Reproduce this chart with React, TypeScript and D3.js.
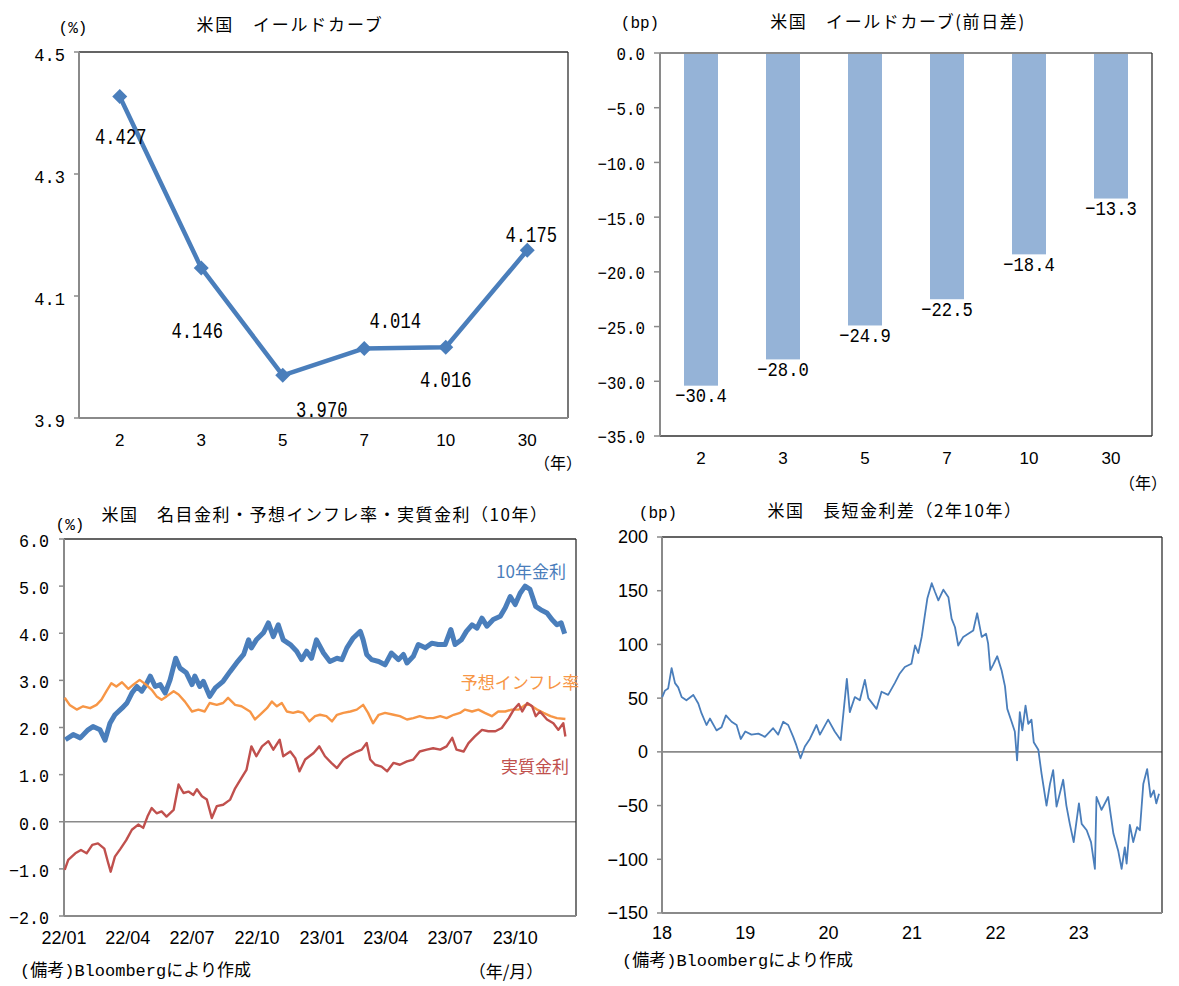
import React from 'react';
import * as d3 from 'd3';

// ---- US yield curve (levels and daily change) ----
const maturities = ['2', '3', '5', '7', '10', '30'];
const yields = [4.427, 4.146, 3.97, 4.014, 4.016, 4.175];
const dailyChangeBp = [-30.4, -28.0, -24.9, -22.5, -18.4, -13.3];
const yieldTicks = [3.9, 4.1, 4.3, 4.5];
const changeTicks = [0, -5, -10, -15, -20, -25, -30, -35];
// manual placement of the yield labels relative to each marker [dx, dy]
const yieldLabelOffsets: [number, number][] = [
  [1, 40], [-4, 62], [39, 34], [31, -28], [0, 32], [4, -16],
];

// ---- 10y nominal yield, breakeven inflation, real yield (%) ----
const nominal10y: [string, number][] = [
  ['2022-01-03', 1.74], ['2022-01-14', 1.85], ['2022-01-24', 1.78], ['2022-02-04', 1.95],
  ['2022-02-11', 2.02], ['2022-02-21', 1.95], ['2022-02-28', 1.73], ['2022-03-07', 2.09],
  ['2022-03-14', 2.27], ['2022-03-24', 2.41], ['2022-03-31', 2.52], ['2022-04-07', 2.73],
  ['2022-04-14', 2.87], ['2022-04-21', 2.77], ['2022-04-27', 2.91], ['2022-05-03', 3.09],
  ['2022-05-10', 2.87], ['2022-05-17', 2.91], ['2022-05-24', 2.73], ['2022-05-31', 3.01],
  ['2022-06-08', 3.47], ['2022-06-14', 3.26], ['2022-06-23', 3.16], ['2022-07-01', 2.91],
  ['2022-07-05', 3.09], ['2022-07-12', 2.87], ['2022-07-17', 2.98], ['2022-07-26', 2.66],
  ['2022-08-03', 2.84], ['2022-08-14', 2.98], ['2022-08-24', 3.19], ['2022-09-02', 3.37],
  ['2022-09-12', 3.55], ['2022-09-19', 3.86], ['2022-09-23', 3.69], ['2022-09-30', 3.86],
  ['2022-10-10', 4.01], ['2022-10-17', 4.22], ['2022-10-24', 3.93], ['2022-10-31', 4.18],
  ['2022-11-07', 3.86], ['2022-11-17', 3.76], ['2022-11-26', 3.62], ['2022-12-03', 3.44],
  ['2022-12-10', 3.62], ['2022-12-17', 3.47], ['2022-12-24', 3.86], ['2023-01-03', 3.58],
  ['2023-01-12', 3.4], ['2023-01-22', 3.47], ['2023-01-29', 3.44], ['2023-02-05', 3.69],
  ['2023-02-14', 3.9], ['2023-02-24', 4.04], ['2023-02-28', 3.86], ['2023-03-05', 3.55],
  ['2023-03-12', 3.44], ['2023-03-22', 3.4], ['2023-03-31', 3.33], ['2023-04-09', 3.58],
  ['2023-04-19', 3.44], ['2023-04-26', 3.55], ['2023-05-01', 3.37], ['2023-05-10', 3.51],
  ['2023-05-17', 3.76], ['2023-05-27', 3.69], ['2023-06-05', 3.79], ['2023-06-14', 3.76],
  ['2023-06-24', 3.76], ['2023-07-02', 4.08], ['2023-07-08', 3.76], ['2023-07-17', 3.86],
  ['2023-07-24', 4.04], ['2023-08-01', 4.18], ['2023-08-08', 4.11], ['2023-08-15', 4.32],
  ['2023-08-22', 4.15], ['2023-08-31', 4.29], ['2023-09-10', 4.36], ['2023-09-17', 4.54],
  ['2023-09-24', 4.78], ['2023-10-01', 4.61], ['2023-10-08', 4.85], ['2023-10-15', 5.0],
  ['2023-10-22', 4.93], ['2023-10-30', 4.57], ['2023-11-06', 4.5], ['2023-11-15', 4.43],
  ['2023-11-22', 4.29], ['2023-11-29', 4.18], ['2023-12-05', 4.22], ['2023-12-10', 3.99],
];

const breakeven10y: [string, number][] = [
  ['2022-01-02', 2.63], ['2022-01-09', 2.48], ['2022-01-19', 2.38], ['2022-01-28', 2.45],
  ['2022-02-07', 2.41], ['2022-02-16', 2.48], ['2022-02-23', 2.59], ['2022-03-02', 2.77],
  ['2022-03-09', 2.94], ['2022-03-16', 2.87], ['2022-03-24', 2.96], ['2022-04-02', 2.82],
  ['2022-04-09', 2.91], ['2022-04-18', 3.01], ['2022-04-27', 2.91], ['2022-05-05', 2.8],
  ['2022-05-12', 2.66], ['2022-05-19', 2.59], ['2022-05-26', 2.66], ['2022-06-05', 2.77],
  ['2022-06-12', 2.7], ['2022-06-21', 2.55], ['2022-07-01', 2.34], ['2022-07-10', 2.38],
  ['2022-07-19', 2.34], ['2022-07-26', 2.52], ['2022-08-05', 2.48], ['2022-08-14', 2.52],
  ['2022-08-21', 2.63], ['2022-08-31', 2.48], ['2022-09-09', 2.45], ['2022-09-21', 2.34],
  ['2022-09-28', 2.17], ['2022-10-05', 2.27], ['2022-10-15', 2.41], ['2022-10-22', 2.55],
  ['2022-10-29', 2.45], ['2022-11-05', 2.52], ['2022-11-12', 2.34], ['2022-11-21', 2.31],
  ['2022-11-28', 2.34], ['2022-12-05', 2.31], ['2022-12-14', 2.13], ['2022-12-22', 2.24],
  ['2022-12-29', 2.27], ['2023-01-07', 2.24], ['2023-01-15', 2.13], ['2023-01-22', 2.27],
  ['2023-01-31', 2.31], ['2023-02-10', 2.34], ['2023-02-19', 2.38], ['2023-02-28', 2.48],
  ['2023-03-07', 2.31], ['2023-03-14', 2.09], ['2023-03-22', 2.27], ['2023-03-31', 2.31],
  ['2023-04-12', 2.27], ['2023-04-21', 2.24], ['2023-05-01', 2.17], ['2023-05-10', 2.2],
  ['2023-05-19', 2.24], ['2023-05-29', 2.2], ['2023-06-07', 2.2], ['2023-06-17', 2.24],
  ['2023-06-26', 2.2], ['2023-07-06', 2.27], ['2023-07-15', 2.31], ['2023-07-22', 2.38],
  ['2023-08-01', 2.34], ['2023-08-10', 2.38], ['2023-08-19', 2.31], ['2023-08-29', 2.24],
  ['2023-09-07', 2.34], ['2023-09-17', 2.34], ['2023-09-26', 2.38], ['2023-10-06', 2.38],
  ['2023-10-15', 2.48], ['2023-10-22', 2.48], ['2023-11-01', 2.38], ['2023-11-10', 2.31],
  ['2023-11-20', 2.24], ['2023-11-29', 2.2], ['2023-12-11', 2.18],
];

const real10y: [string, number][] = [
  ['2022-01-02', -1.02], ['2022-01-07', -0.81], ['2022-01-17', -0.67], ['2022-01-25', -0.6],
  ['2022-02-02', -0.67], ['2022-02-10', -0.49], ['2022-02-18', -0.46], ['2022-02-27', -0.57],
  ['2022-03-04', -0.85], ['2022-03-08', -1.06], ['2022-03-14', -0.74], ['2022-03-22', -0.57],
  ['2022-03-30', -0.39], ['2022-04-07', -0.17], ['2022-04-16', -0.06], ['2022-04-23', -0.13],
  ['2022-04-29', 0.11], ['2022-05-05', 0.29], ['2022-05-12', 0.18], ['2022-05-19', 0.22],
  ['2022-05-26', 0.11], ['2022-06-05', 0.25], ['2022-06-12', 0.79], ['2022-06-19', 0.61],
  ['2022-06-26', 0.64], ['2022-07-03', 0.57], ['2022-07-08', 0.69], ['2022-07-15', 0.54],
  ['2022-07-22', 0.47], ['2022-07-29', 0.08], ['2022-08-05', 0.33], ['2022-08-14', 0.36],
  ['2022-08-24', 0.47], ['2022-08-31', 0.71], ['2022-09-09', 0.93], ['2022-09-16', 1.1],
  ['2022-09-23', 1.6], ['2022-09-30', 1.39], ['2022-10-08', 1.6], ['2022-10-17', 1.71],
  ['2022-10-24', 1.53], ['2022-11-02', 1.74], ['2022-11-07', 1.39], ['2022-11-17', 1.49],
  ['2022-11-24', 1.35], ['2022-11-30', 1.07], ['2022-12-08', 1.32], ['2022-12-20', 1.46],
  ['2022-12-28', 1.6], ['2023-01-05', 1.39], ['2023-01-14', 1.25], ['2023-01-22', 1.14],
  ['2023-01-31', 1.32], ['2023-02-10', 1.42], ['2023-02-19', 1.49], ['2023-02-26', 1.53],
  ['2023-03-05', 1.67], ['2023-03-10', 1.32], ['2023-03-17', 1.21], ['2023-03-26', 1.17],
  ['2023-04-03', 1.07], ['2023-04-12', 1.25], ['2023-04-21', 1.21], ['2023-05-01', 1.28],
  ['2023-05-10', 1.32], ['2023-05-19', 1.49], ['2023-05-29', 1.53], ['2023-06-07', 1.56],
  ['2023-06-17', 1.53], ['2023-06-26', 1.6], ['2023-07-04', 1.78], ['2023-07-10', 1.53],
  ['2023-07-20', 1.49], ['2023-07-27', 1.67], ['2023-08-05', 1.81], ['2023-08-15', 1.95],
  ['2023-08-24', 1.92], ['2023-09-03', 1.92], ['2023-09-12', 1.99], ['2023-09-22', 2.2],
  ['2023-09-29', 2.38], ['2023-10-06', 2.5], ['2023-10-11', 2.34], ['2023-10-18', 2.52],
  ['2023-10-25', 2.45], ['2023-10-30', 2.24], ['2023-11-05', 2.34], ['2023-11-15', 2.17],
  ['2023-11-24', 2.09], ['2023-12-01', 1.95], ['2023-12-08', 2.09], ['2023-12-11', 1.81],
];
const rateTicks = [-2, -1, 0, 1, 2, 3, 4, 5, 6];
const quarterTicks = ['2022-01-01', '2022-04-01', '2022-07-01', '2022-10-01', '2023-01-01', '2023-04-01', '2023-07-01', '2023-10-01'];

// ---- 2s10s spread (bp) ----
const spread2s10s: [string, number][] = [
  ['2018-01-02', 51], ['2018-01-14', 57], ['2018-01-28', 59], ['2018-02-12', 78], ['2018-02-27', 64],
  ['2018-03-13', 60], ['2018-03-28', 51], ['2018-04-18', 48], ['2018-05-18', 53], ['2018-06-09', 45],
  ['2018-06-23', 36], ['2018-07-15', 25], ['2018-07-30', 31], ['2018-08-28', 20], ['2018-09-19', 23],
  ['2018-10-08', 34], ['2018-11-02', 28], ['2018-11-24', 25], ['2018-12-12', 12], ['2019-01-01', 19],
  ['2019-01-28', 16], ['2019-02-27', 17], ['2019-03-28', 14], ['2019-05-03', 22], ['2019-05-25', 16],
  ['2019-06-16', 28], ['2019-07-08', 25], ['2019-07-30', 14], ['2019-08-13', 6], ['2019-08-31', -6],
  ['2019-09-19', 5], ['2019-10-11', 12], ['2019-11-09', 25], ['2019-11-24', 16], ['2019-12-30', 30],
  ['2020-01-28', 19], ['2020-02-23', 11], ['2020-03-05', 34], ['2020-03-21', 68], ['2020-04-03', 37],
  ['2020-04-25', 51], ['2020-05-17', 48], ['2020-06-08', 67], ['2020-06-23', 50], ['2020-07-29', 40],
  ['2020-08-20', 56], ['2020-09-18', 53], ['2020-10-17', 64], ['2020-11-08', 73], ['2020-11-30', 79],
  ['2020-12-29', 82], ['2021-01-14', 99], ['2021-01-28', 92], ['2021-02-12', 107], ['2021-02-27', 129],
  ['2021-03-09', 143], ['2021-03-28', 157], ['2021-04-11', 149], ['2021-04-26', 141], ['2021-05-18', 151],
  ['2021-06-09', 144], ['2021-06-23', 124], ['2021-07-08', 116], ['2021-07-22', 99], ['2021-08-13', 107],
  ['2021-09-04', 110], ['2021-09-26', 113], ['2021-10-13', 129], ['2021-11-02', 107], ['2021-11-21', 110],
  ['2021-11-30', 101], ['2021-12-10', 76], ['2021-12-22', 81], ['2022-01-09', 89], ['2022-01-28', 76],
  ['2022-02-12', 61], ['2022-02-22', 40], ['2022-03-13', 28], ['2022-03-27', 19], ['2022-04-06', -8],
  ['2022-04-18', 37], ['2022-04-29', 20], ['2022-05-13', 43], ['2022-05-25', 26], ['2022-06-08', 30],
  ['2022-06-18', 9], ['2022-07-08', 2], ['2022-07-22', -20], ['2022-08-13', -50], ['2022-08-28', -30],
  ['2022-09-11', -17], ['2022-09-26', -51], ['2022-10-25', -26], ['2022-11-08', -50], ['2022-11-23', -67],
  ['2022-12-10', -84], ['2023-01-02', -48], ['2023-01-14', -67], ['2023-02-05', -73], ['2023-02-24', -84],
  ['2023-03-13', -109], ['2023-03-20', -42], ['2023-04-11', -54], ['2023-05-10', -42], ['2023-06-02', -76],
  ['2023-06-23', -92], ['2023-07-08', -109], ['2023-07-22', -89], ['2023-07-30', -104], ['2023-08-13', -68],
  ['2023-08-28', -84], ['2023-09-14', -70], ['2023-09-26', -73], ['2023-10-11', -30], ['2023-10-28', -16],
  ['2023-11-12', -42], ['2023-11-26', -36], ['2023-12-07', -48], ['2023-12-19', -39],
];
const spreadTicks = [-150, -100, -50, 0, 50, 100, 150, 200];
const yearTicks = ['2018-01-01', '2019-01-01', '2020-01-01', '2021-01-01', '2022-01-01', '2023-01-01'];

const JP = '"Noto Sans CJK JP", "Noto Sans CJK SC", sans-serif';
const MONO = '"Liberation Mono", "DejaVu Sans Mono", monospace';
const SANS = '"Liberation Sans", Arial, sans-serif';
const AXIS = '#8a8a8a';
const FRAME = '#303030';
const BLUE = '#4A7EBB';
const ORANGE = '#F79646';
const RED = '#C0504D';
const BAR = '#95B3D7';

const parseDate = d3.utcParse('%Y-%m-%d');

type TxtProps = {
  x: number; y: number; children: React.ReactNode; anchor?: string; size?: number;
  family?: string; fill?: string; sx?: number; ls?: number;
};
// text positioned by its vertical centre, optionally condensed horizontally
function Txt({ x, y, children, anchor = 'middle', size = 16, family = JP, fill = '#000', sx = 1, ls = 0 }: TxtProps) {
  return (
    <text
      transform={`translate(${x},${y}) scale(${sx},1)`}
      textAnchor={anchor}
      fontSize={size}
      fontFamily={family}
      fill={fill}
      letterSpacing={ls}
      dy="0.36em"
    >
      {children}
    </text>
  );
}

function Frame({ L, R, T, B, topAxis = false }: { L: number; R: number; T: number; B: number; topAxis?: boolean }) {
  return (
    <g>
      <line x1={L} y1={T} x2={R} y2={T} stroke={topAxis ? AXIS : FRAME} strokeWidth={topAxis ? 2 : 1.3} />
      <line x1={R} y1={T} x2={R} y2={B} stroke={FRAME} strokeWidth={1.3} />
      <line x1={L} y1={B} x2={R} y2={B} stroke={topAxis ? FRAME : AXIS} strokeWidth={topAxis ? 1.3 : 2} />
      <line x1={L} y1={T} x2={L} y2={B} stroke={AXIS} strokeWidth={2} />
    </g>
  );
}

function YieldCurve() {
  const L = 79, R = 568, T = 52, B = 418;
  const x = d3.scaleBand<string>().domain(maturities).range([L, R]);
  const y = d3.scaleLinear().domain([3.9, 4.5]).range([B, T]);
  const cx = (m: string) => (x(m) as number) + x.bandwidth() / 2;
  const line = d3.line<number>().x((_, i) => cx(maturities[i])).y((d) => y(d));
  const fmt = d3.format('.3f');
  return (
    <g>
      <Txt x={73} y={27} size={16} family={MONO}>(%)</Txt>
      <Txt x={290} y={25} size={17} ls={1.8}>米国　イールドカーブ</Txt>
      <Frame L={L} R={R} T={T} B={B} />
      {yieldTicks.map((t) => (
        <g key={t}>
          <line x1={L - 5} x2={L} y1={y(t)} y2={y(t)} stroke={AXIS} strokeWidth={1.5} />
          <Txt x={65} y={y(t) + 2} anchor="end" size={19} family={MONO} sx={0.9}>{d3.format('.1f')(t)}</Txt>
        </g>
      ))}
      {maturities.map((m) => (
        <Txt key={m} x={cx(m)} y={440} size={17} family={SANS}>{m}</Txt>
      ))}
      <Txt x={558} y={463} size={16} family={JP}>（年）</Txt>
      <path d={line(yields) ?? ''} fill="none" stroke={BLUE} strokeWidth={4.5} strokeLinejoin="round" />
      {yields.map((v, i) => (
        <path key={i} transform={`translate(${cx(maturities[i])},${y(v)})`} d="M0,-7.5L7.5,0L0,7.5L-7.5,0Z" fill={BLUE} />
      ))}
      {yields.map((v, i) => (
        <Txt key={'l' + i} x={cx(maturities[i]) + yieldLabelOffsets[i][0]} y={y(v) + yieldLabelOffsets[i][1]} size={22} family={MONO} sx={0.78}>
          {fmt(v)}
        </Txt>
      ))}
    </g>
  );
}

function DailyChange() {
  const L = 660, R = 1152, T = 53, B = 436;
  const x = d3.scaleBand<string>().domain(maturities).range([L, R]);
  const y = d3.scaleLinear().domain([-35, 0]).range([B, T]);
  const barW = 34;
  const cx = (m: string) => (x(m) as number) + x.bandwidth() / 2;
  const fmt = d3.format('.1f');
  return (
    <g>
      <Txt x={640} y={22} size={16} family={MONO}>(bp)</Txt>
      <Txt x={898} y={22} size={17} ls={1.6}>米国　イールドカーブ(前日差)</Txt>
      {dailyChangeBp.map((v, i) => (
        <rect key={i} x={cx(maturities[i]) - barW / 2} y={y(0)} width={barW} height={y(v) - y(0)} fill={BAR} />
      ))}
      <Frame L={L} R={R} T={T} B={B} topAxis />
      {changeTicks.map((t) => (
        <g key={t}>
          <line x1={L - 6} x2={L} y1={y(t)} y2={y(t)} stroke={AXIS} strokeWidth={1.5} />
          <Txt x={645} y={y(t) + 1} anchor="end" size={18} family={MONO} sx={0.88}>{fmt(t)}</Txt>
        </g>
      ))}
      {maturities.map((m) => (
        <Txt key={m} x={cx(m)} y={458} size={17} family={SANS}>{m}</Txt>
      ))}
      <Txt x={1143} y={483} size={16} family={JP}>（年）</Txt>
      {dailyChangeBp.map((v, i) => (
        <Txt key={'l' + i} x={cx(maturities[i])} y={y(v) + 9} size={21} family={MONO} sx={0.82}>{fmt(v)}</Txt>
      ))}
    </g>
  );
}

function RealRates() {
  const L = 64, R = 576, T = 539, B = 916;
  const x = d3.scaleUtc().domain([parseDate('2022-01-01')!, parseDate('2023-12-26')!]).range([L, R]);
  const y = d3.scaleLinear().domain([-2, 6]).range([B, T]);
  const line = d3.line<[string, number]>().x((d) => x(parseDate(d[0])!)).y((d) => y(d[1]));
  const fmt = d3.format('.1f');
  const tf = d3.utcFormat('%y/%m');
  return (
    <g>
      <Txt x={70} y={524} size={16} family={MONO}>(%)</Txt>
      <Txt x={325} y={515} size={17} ls={1.5}>米国　名目金利・予想インフレ率・実質金利（10年）</Txt>
      <line x1={L} x2={R} y1={y(0)} y2={y(0)} stroke={AXIS} strokeWidth={1.6} />
      <Frame L={L} R={R} T={T} B={B} />
      {rateTicks.map((t) => (
        <g key={t}>
          <line x1={L - 5} x2={L} y1={y(t)} y2={y(t)} stroke={AXIS} strokeWidth={1.5} />
          <Txt x={49} y={y(t) + 1} anchor="end" size={19} family={MONO} sx={0.88}>{fmt(t)}</Txt>
        </g>
      ))}
      {quarterTicks.map((d) => (
        <Txt key={d} x={x(parseDate(d)!)} y={938} size={18} family={SANS}>{tf(parseDate(d)!)}</Txt>
      ))}
      <path d={line(nominal10y) ?? ''} fill="none" stroke={BLUE} strokeWidth={5} strokeLinejoin="round" />
      <path d={line(breakeven10y) ?? ''} fill="none" stroke={ORANGE} strokeWidth={2.4} strokeLinejoin="round" />
      <path d={line(real10y) ?? ''} fill="none" stroke={RED} strokeWidth={2.4} strokeLinejoin="round" />
      <Txt x={531} y={572} size={17} fill={BLUE}>10年金利</Txt>
      <Txt x={520} y={683} size={17} fill={ORANGE}>予想インフレ率</Txt>
      <Txt x={535} y={767} size={17} fill={RED}>実質金利</Txt>
      <Txt x={20} y={970} anchor="start" size={17} family={`${MONO}, ${JP}`}>(備考)Bloombergにより作成</Txt>
      <Txt x={506} y={972} size={17} family={JP}>（年/月）</Txt>
    </g>
  );
}

function Spread() {
  const L = 662, R = 1162, T = 537, B = 913;
  const x = d3.scaleUtc().domain([parseDate('2018-01-01')!, parseDate('2024-01-01')!]).range([L, R]);
  const y = d3.scaleLinear().domain([-150, 200]).range([B, T]);
  const line = d3.line<[string, number]>().x((d) => x(parseDate(d[0])!)).y((d) => y(d[1]));
  const tf = d3.utcFormat('%y');
  return (
    <g>
      <Txt x={658} y={512} size={16} family={MONO}>(bp)</Txt>
      <Txt x={895} y={511} size={17} ls={1.5}>米国　長短金利差（2年10年）</Txt>
      <line x1={L} x2={R} y1={y(0)} y2={y(0)} stroke={AXIS} strokeWidth={1.6} />
      <Frame L={L} R={R} T={T} B={B} />
      {spreadTicks.map((t) => (
        <g key={t}>
          <line x1={L - 5} x2={L} y1={y(t)} y2={y(t)} stroke={AXIS} strokeWidth={1.5} />
          <Txt x={648} y={y(t)} anchor="end" size={18} family={SANS}>{d3.format('d')(t)}</Txt>
        </g>
      ))}
      {yearTicks.map((d) => (
        <Txt key={d} x={x(parseDate(d)!)} y={933} size={18} family={SANS}>{tf(parseDate(d)!)}</Txt>
      ))}
      <path d={line(spread2s10s) ?? ''} fill="none" stroke={BLUE} strokeWidth={1.8} strokeLinejoin="round" />
      <Txt x={622} y={960} anchor="start" size={17} family={`${MONO}, ${JP}`}>(備考)Bloombergにより作成</Txt>
    </g>
  );
}

export default function App() {
  return (
    <svg
      width={1179}
      height={986}
      viewBox="0 0 1179 986"
      style={{ position: 'absolute', left: 0, top: 0, background: '#fff' }}
    >
      <rect width={1179} height={986} fill="#fff" />
      <YieldCurve />
      <DailyChange />
      <RealRates />
      <Spread />
    </svg>
  );
}
